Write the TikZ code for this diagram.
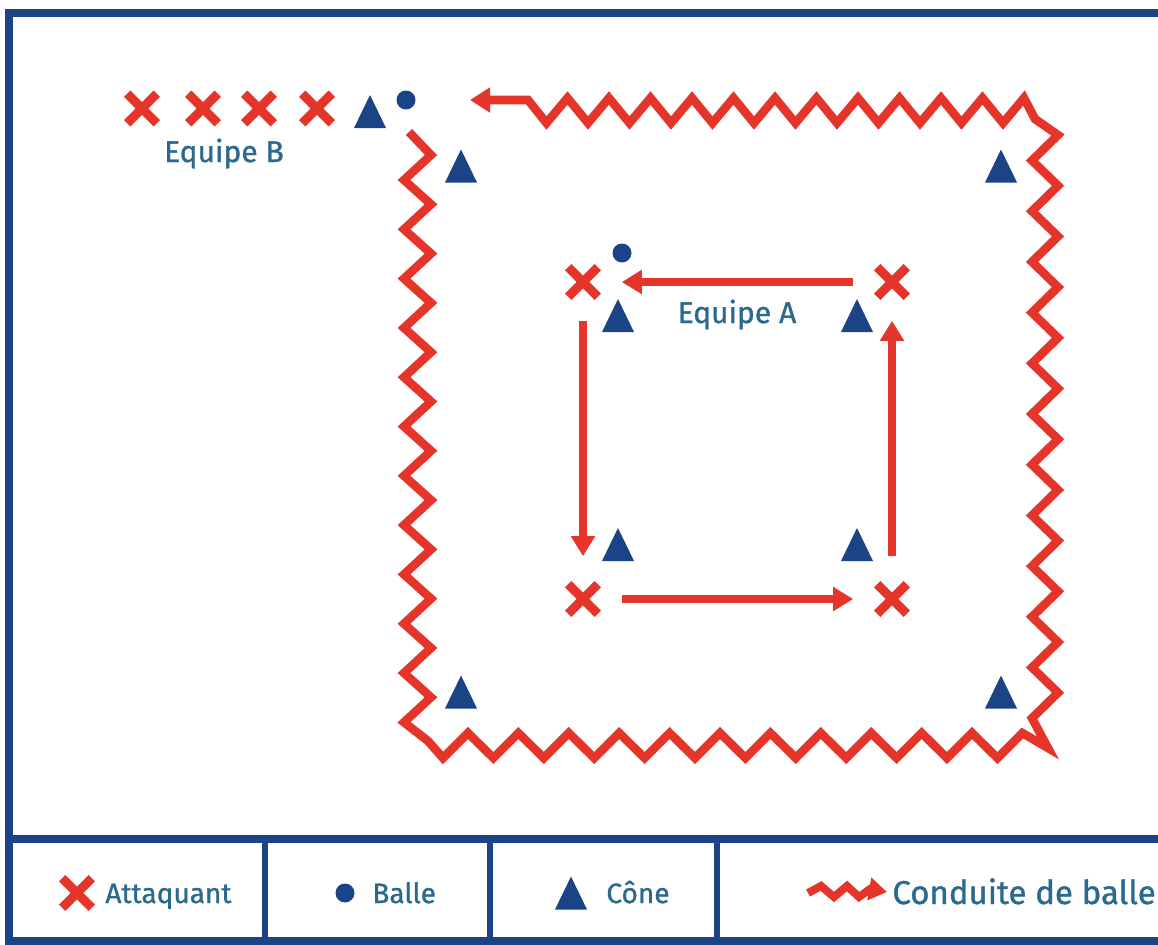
\documentclass[tikz,border=0pt]{standalone}
\usepackage{fontspec}
\setmainfont{Fira Sans}
\newfontfamily\etiq{Fira Sans}[FakeBold=1.1]
\usetikzlibrary{arrows.meta,shapes.misc}

\definecolor{bleu}{RGB}{27,68,134}
\definecolor{rouge}{RGB}{229,53,43}
\definecolor{texte}{RGB}{43,106,140}

\tikzset{
  attaquant/.style={cross out, draw=rouge, line width=4.5pt, minimum size=14.8pt, inner sep=0pt, outer sep=0pt},
  balle/.style={circle, fill=bleu, minimum size=9.5pt, inner sep=0pt},
  passe/.style={draw=rouge, line width=4pt, -{Triangle[length=10pt,width=11.5pt]}, shorten >=12pt, shorten <=12pt},
  conduite/.style={draw=rouge, line width=4.3pt, line join=miter, -{Triangle[length=10pt,width=12pt]}},
  cadre/.style={draw=bleu, line width=4pt},
  etiquette/.style={text=texte, font=\etiq\fontsize{14}{16}\selectfont, inner sep=0pt},
  cone/.pic={\fill[bleu] (-16,16.5) -- (16,16.5) -- (0,-16.5) -- cycle;}
}

\begin{document}
\begin{tikzpicture}[x=0.5pt, y=-0.5pt]
    \useasboundingbox (0,0) rectangle (1158,944);
    % terrain et legende
    \draw[cadre] (9,12.5) rectangle (1180,941);
    \draw[cadre] (9,839) -- (1180,839);
    \foreach \x in {265,490,717}
        \draw[draw=bleu, line width=3pt] (\x,839) -- (\x,941);

    % equipe B
    \foreach \x [count=\i] in {142,203,259,317}
        \node[attaquant] (b\i) at (\x,108.5) {};
    \pic at (370,111.5) {cone};
    \node[balle] (balleB) at (406,100) {};
    \node[etiquette, anchor=base, font=\etiq\fontsize{15}{17}\selectfont] (equipeB) at (224,162) {Equipe B};

    % cones du grand carre
    \pic at (461,166) {cone};
    \pic at (1001,166) {cone};
    \pic at (461,692) {cone};
    \pic at (1001,692) {cone};

    % conduite de balle autour du grand carre
    \coordinate (depart) at (409,132);
    \coordinate (arrivee) at (470,100);
    \draw[conduite] (depart)
        \foreach \i in {0,...,11} { -- (431,{155+49.3*\i}) -- (404,{180+49.3*\i}) }
        -- (428,741)
        \foreach \i in {0,...,11} { -- ({443+50.4*\i},758) -- ({468+50.4*\i},733) }
        -- (1048,748)
        \foreach \i in {11,10,...,0} { -- (1032,{160.5+50.7*\i}) -- (1058,{135+50.7*\i}) }
        -- (1035,119)
        \foreach \i in {0,...,11} { -- ({1024-41.5*\i},98) -- ({1003-41.5*\i},123) }
        -- (528,100) -- (arrivee);

    % equipe A
    \node[attaquant] (a1) at (583,282) {};
    \node[attaquant] (a2) at (892,282) {};
    \node[attaquant] (a3) at (892,599) {};
    \node[attaquant] (a4) at (583,599) {};
    \node[balle] (balleA) at (622,253) {};
    \pic at (618,315.5) {cone};
    \pic at (857,315.5) {cone};
    \pic at (618,544.5) {cone};
    \pic at (857,544.5) {cone};
    \node[etiquette, anchor=base, font=\etiq\fontsize{15}{17}\selectfont] (equipeA) at (737,323) {Equipe A};
    \draw[passe] (a2) -- (a1);
    \draw[passe, shorten >=14pt] (a1) -- (a4);
    \draw[passe] (a4) -- (a3);
    \draw[passe, shorten <=14pt] (a3) -- (a2);

    % legende
    \node[attaquant] (lgAtt) at (77,893) {};
    \node[etiquette, anchor=base west] (lgAttTxt) at (105,903) {Attaquant};
    \node[balle] (lgBalle) at (345,893) {};
    \node[etiquette, anchor=base west] (lgBalleTxt) at (372,903) {Balle};
    \pic at (571,893) {cone};
    \node[etiquette, anchor=base west] (lgConeTxt) at (606,903) {Cône};
    \coordinate (lgDep) at (808,893);
    \coordinate (lgArr) at (887,892);
    \draw[draw=rouge, line width=4pt, line join=miter, -{Triangle[length=9pt,width=11pt]}]
        (lgDep) -- (821,886) -- (834,897) -- (847,886) -- (859,897) -- (870,889) -- (lgArr);
    \node[etiquette, anchor=base west, font=\etiq\fontsize{16.5}{18}\selectfont] (lgCondTxt) at (892,904) {Conduite de balle};
\end{tikzpicture}
\end{document}
